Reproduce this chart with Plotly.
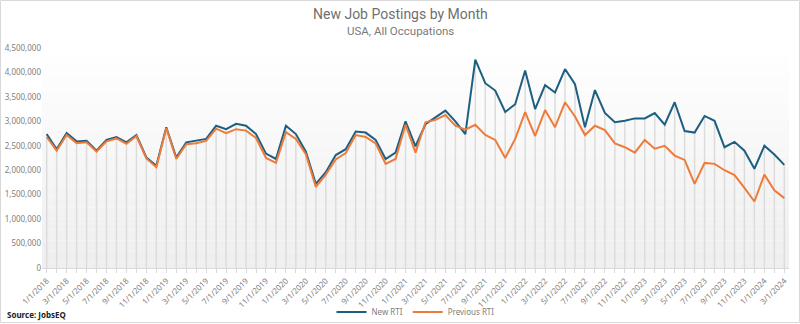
import plotly.graph_objects as go

# Monthly postings, Jan 2018 - Mar 2024
months = [f"{m}/1/{y}" for y in range(2018, 2025) for m in range(1, 13)][:75]

new_rti = [
    2740000, 2430000, 2760000, 2590000, 2600000, 2400000, 2620000, 2680000, 2570000, 2720000,
    2260000, 2090000, 2880000, 2260000, 2570000, 2600000, 2640000, 2910000, 2840000, 2950000,
    2910000, 2740000, 2340000, 2230000, 2910000, 2740000, 2380000, 1720000, 1960000, 2310000,
    2430000, 2790000, 2770000, 2620000, 2230000, 2360000, 3000000, 2490000, 2940000, 3080000,
    3220000, 3000000, 2740000, 4260000, 3780000, 3630000, 3190000, 3350000, 4040000, 3250000,
    3740000, 3590000, 4070000, 3760000, 2880000, 3640000, 3170000, 2980000, 3010000, 3060000,
    3060000, 3170000, 2930000, 3390000, 2800000, 2770000, 3110000, 3010000, 2470000, 2580000,
    2400000, 2030000, 2500000, 2320000, 2110000,
]

previous_rti = [
    2680000, 2400000, 2720000, 2550000, 2570000, 2380000, 2590000, 2650000, 2540000, 2700000,
    2240000, 2060000, 2860000, 2230000, 2530000, 2550000, 2600000, 2850000, 2760000, 2840000,
    2810000, 2660000, 2250000, 2150000, 2780000, 2640000, 2330000, 1660000, 1910000, 2220000,
    2350000, 2720000, 2680000, 2550000, 2130000, 2230000, 2930000, 2360000, 2980000, 3030000,
    3130000, 2910000, 2830000, 2930000, 2720000, 2620000, 2250000, 2640000, 3190000, 2700000,
    3230000, 2880000, 3390000, 3100000, 2720000, 2910000, 2820000, 2550000, 2470000, 2360000,
    2620000, 2440000, 2500000, 2300000, 2210000, 1720000, 2150000, 2130000, 2000000, 1900000,
    1640000, 1360000, 1910000, 1590000, 1430000,
]

y_ticks = [0, 500000, 1000000, 1500000, 2000000, 2500000, 3000000, 3500000, 4000000, 4500000]

idx = list(range(len(months)))
BLUE = "#1d5f80"
ORANGE = "#ef7b3a"
GREY_TXT = "#808080"

W, H = 800, 324
ML, MR, MT, MB = 42, 11, 48, 56
PW, PH = W - ML - MR, H - MT - MB


def px_x(x):
    """Horizontal pixel -> paper fraction."""
    return (x - ML) / PW


def px_y(y):
    """Vertical pixel (from top) -> paper fraction."""
    return (H - MB - y) / PH


fig = go.Figure()

# Drop lines from each month's highest value down to the axis
drop_x, drop_y = [], []
for i, a, b in zip(idx, new_rti, previous_rti):
    drop_x += [i, i, None]
    drop_y += [0, max(a, b), None]
fig.add_trace(go.Scatter(
    x=drop_x, y=drop_y, mode="lines",
    line=dict(color="#dcdcdc", width=1.5),
    hoverinfo="skip", showlegend=False,
))

fig.add_trace(go.Scatter(
    x=idx, y=new_rti, name="New RTI", mode="lines",
    line=dict(color=BLUE, width=2),
    customdata=months, hovertemplate="%{customdata}: %{y:,}<extra>New RTI</extra>",
))
fig.add_trace(go.Scatter(
    x=idx, y=previous_rti, name="Previous RTI", mode="lines",
    line=dict(color=ORANGE, width=2),
    customdata=months, hovertemplate="%{customdata}: %{y:,}<extra>Previous RTI</extra>",
))

# Soft vertical gradient behind the plot area
shapes = []
bands = 40
top = y_ticks[-1]
for k in range(bands):
    y0 = top * k / bands
    y1 = top * (k + 1) / bands
    t = k / (bands - 1)
    c = int(239 + 16 * t)
    shapes.append(dict(
        type="rect", xref="paper", yref="y", x0=0, x1=1, y0=y0, y1=y1,
        fillcolor=f"rgb({c},{c},{c})", line=dict(width=0), layer="below",
    ))
# Outer frame of the chart
shapes.append(dict(
    type="rect", xref="paper", yref="paper",
    x0=px_x(0.5), x1=px_x(W - 0.5), y0=px_y(H - 1.5), y1=px_y(0.5),
    line=dict(color="#d9d9d9", width=1), layer="below",
))

annotations = [
    dict(text="New Job Postings by Month", xref="paper", yref="paper",
         x=px_x(400), y=px_y(14), xanchor="center", yanchor="middle", showarrow=False,
         font=dict(family="Roboto, sans-serif", size=14, color="#707070")),
    dict(text="USA, All Occupations", xref="paper", yref="paper",
         x=px_x(400), y=px_y(31), xanchor="center", yanchor="middle", showarrow=False,
         font=dict(family="Roboto, sans-serif", size=11.5, color="#7a7a7a")),
    dict(text="<b>Source: JobsEQ</b>", xref="paper", yref="paper",
         x=px_x(5), y=px_y(315), xanchor="left", yanchor="middle", showarrow=False,
         font=dict(size=8, color="#222222")),
]

fig.update_layout(
    width=W, height=H,
    margin=dict(l=ML, r=MR, t=MT, b=MB, autoexpand=False),
    paper_bgcolor="white", plot_bgcolor="white",
    font=dict(family="Noto Sans, sans-serif", color=GREY_TXT, size=8),
    shapes=shapes,
    annotations=annotations,
    showlegend=True,
    legend=dict(
        orientation="h", x=0.5, xanchor="center",
        yref="container", y=(H - 312) / H, yanchor="middle",
        font=dict(size=8, color=GREY_TXT), itemwidth=30, tracegroupgap=0,
        bgcolor="rgba(0,0,0,0)",
    ),
)

fig.update_xaxes(
    range=[-0.47, len(months) - 1 + 0.47],
    tickmode="array", tickvals=idx[::2], ticktext=months[::2],
    tickangle=-45, tickfont=dict(size=8, color=GREY_TXT),
    showgrid=False, zeroline=False, automargin=False,
    showline=True, linecolor="#d9d9d9", linewidth=1,
    ticks="outside", ticklen=4, tickcolor="#d9d9d9",
    minor=dict(dtick=1, ticks="outside", ticklen=4, tickcolor="#d9d9d9", showgrid=False),
)
fig.update_yaxes(
    range=[0, top], tickmode="array", tickvals=y_ticks,
    ticktext=[f"{v:,}" for v in y_ticks],
    tickfont=dict(size=8, color=GREY_TXT),
    showgrid=False, zeroline=False, showline=False, ticks="", automargin=False,
)

fig.write_html("out.html")
